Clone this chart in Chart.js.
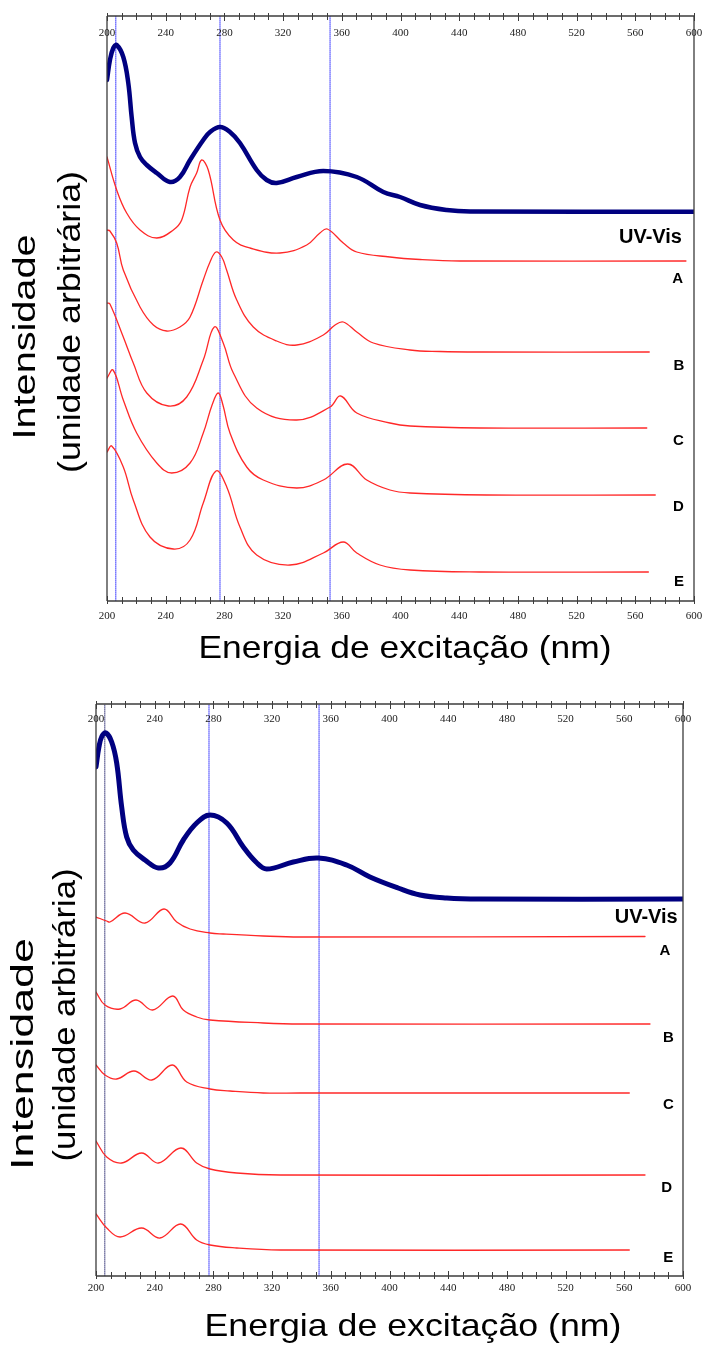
<!DOCTYPE html>
<html>
<head>
<meta charset="utf-8">
<script src="https://cdn.jsdelivr.net/npm/chart.js@4.4.1/dist/chart.umd.min.js"></script>
<style>
  html, body { margin: 0; padding: 0; background: #fff; }
  .panel { position: absolute; left: 0; width: 702px; }
  #top { top: 0; height: 673px; }
  #bottom { top: 673px; height: 674px; }
</style>
</head>
<body>
<div class="panel" id="top"><canvas id="chartTop" width="702" height="673"></canvas></div>
<div class="panel" id="bottom"><canvas id="chartBottom" width="702" height="674"></canvas></div>
<script>
// excitation wavelength (nm) / intensity (arbitrary units, traces already offset)

// ---- upper panel
const topUvNm = [200, 202, 204.3, 206.6, 211.1, 214.5, 216.8, 219.1, 222.5, 227.1, 233.9, 242.9, 249.7, 256.6, 265.6, 270.2, 277, 283.8, 290.6, 302, 308.8, 315.6, 329.3, 347.4, 370.2, 388.3, 399.7, 413.3, 431.5, 447.4, 600]
const topUvI  = [521, 541, 553, 556, 544, 518, 484, 458, 444, 436, 428, 419, 424, 441, 461, 469, 474, 469, 458, 431, 421, 418, 424, 430, 424, 409, 404, 396, 391, 389.5, 389.3]

const topANm = [200, 206.6, 213.4, 222.5, 233.9, 245.2, 250.9, 256.6, 261.1, 264.5, 269, 277, 286.1, 297.4, 317.9, 336.1, 345.1, 350.1, 361, 370.2, 392.8, 413.3, 440.5, 594.5]
const topAI  = [444, 411, 388, 371, 363, 371, 381, 414, 428, 441, 431, 381, 361, 353, 348, 356, 368, 372, 358, 349, 344, 341.5, 340, 340]

const topBNm = [200, 202, 206.6, 211.1, 222.5, 231.6, 240.7, 249.7, 256.6, 265.6, 270.2, 274.3, 278.2, 281.5, 288.4, 299.7, 315.6, 329.3, 347.4, 355.4, 361, 370.2, 381.5, 406.5, 426.9, 454.2, 569.5]
const topBI  = [371, 370, 358, 331, 294, 276, 270, 274, 284, 321, 339, 349, 344, 331, 301, 274, 260, 256, 266, 276, 279, 269, 258, 251, 249.5, 249, 249]

const topCNm = [200, 202, 211.1, 217.9, 227.1, 241.8, 254.3, 265.6, 273.1, 279.2, 286.1, 302, 329.3, 352, 359.2, 370.2, 392.8, 406.5, 454.2, 567.8]
const topCI  = [298, 297, 264, 238, 208, 195, 204, 241, 274, 258, 228, 193, 181, 194, 205, 188, 178, 175, 173, 173]

const topDNm = [200, 204.1, 211.1, 220.2, 233.9, 244.1, 256.6, 265.6, 271.6, 275.8, 279, 283.8, 295.2, 306.5, 329.3, 347.4, 364, 377, 392.8, 406.5, 458.7, 573.6]
const topDI  = [223, 231, 201, 168, 138, 128, 138, 168, 196, 208, 196, 168, 134, 121, 113, 121, 137, 121, 111, 108, 106, 106]

const topENm = [200, 203.2, 211.1, 217.9, 229.3, 245.2, 256.6, 265.6, 274.3, 281.6, 290.6, 302, 324.7, 347.4, 361, 370.2, 386, 406.5, 454.2, 568.9]
const topEI  = [149, 155, 134, 101, 64, 52, 61, 98, 130, 114, 74, 46, 36, 48, 59, 48, 36, 31, 29, 29]

// ---- lower panel
const botUvNm = [200, 202, 204.1, 206.8, 210.7, 214.1, 217.5, 220.9, 225.4, 233.4, 242.5, 250.4, 259.5, 268.6, 277.7, 289.1, 300.4, 309, 316.3, 334.4, 351.5, 370.8, 386.7, 405.8, 420.8, 439, 461.7, 600]
const botUvI  = [509, 529, 540, 543, 534, 513, 469, 439, 426, 416, 408, 413, 436, 453, 461, 453, 429, 414, 407, 414, 418, 411, 399, 388, 381, 378, 377, 377]

const botANm = [200, 207.3, 209.5, 219.8, 233.4, 246.3, 255, 264.1, 277.7, 286.7, 314, 339, 574.1]
const botAI  = [359, 355, 354, 363, 353, 367, 354, 347, 343, 342, 340, 339, 339.5]

const botBNm = [200, 206.1, 216.4, 227.3, 238.6, 252.3, 259.5, 268.6, 277.7, 314, 339, 577.5]
const botBI  = [284, 271, 267, 276, 266, 280, 266, 259, 256, 253, 252, 252]

const botCNm = [200, 206.1, 214.1, 225.9, 238, 252, 261.8, 277.7, 291.3, 314, 339, 563.4]
const botCI  = [211, 201, 197, 205, 196, 211, 194, 187, 185, 183, 183, 183]

const botDNm = [200, 207.3, 217.5, 231.1, 242.5, 257.9, 268.6, 277.7, 295.9, 325.4, 574.1]
const botDI  = [135, 119, 113, 123, 113, 128, 113, 107, 103, 101, 101]

const botENm = [200, 207.3, 216.4, 231.1, 243.6, 257.7, 268.6, 277.7, 295.9, 325.4, 563.4]
const botEI  = [62, 48, 39, 48, 38, 52, 36, 31, 28, 26, 26]

// reference wavelengths marked with dotted lines
const markerNm = [206, 277, 352]

// x axis ticks
const tickStep = 10
const labelStep = 40

// trace labels, anchored in data units
const traceLabels = ["UV-Vis", "A", "B", "C", "D", "E"]
const topLabelNm = [591.8, 588.9, 589.8, 589.3, 589.3, 589.8]
const topLabelI  = [364, 322, 235, 160, 94, 19]
const botLabelNm = [596.4, 587.7, 590, 590, 588.9, 590]
const botLabelI  = [359, 325, 238, 171, 88, 18]

const xTitle = "Energia de excitação (nm)"
const yTitle = ["Intensidade", "(unidade arbitrária)"]

const NAVY = '#000080'
const RED = 'rgb(255,40,40)'
const AXIS = '#3c3c3c'
const TITLE_FONT = '32px "Liberation Sans", Arial, sans-serif'

const toPoints = (nm, values) => nm.map((x, i) => ({ x, y: values[i] }))

// draws text stretched along its own direction to a given length
const drawFitted = (ctx, text, x, y, length, angle) => {
  ctx.save()
  ctx.translate(x, y)
  ctx.rotate(angle)
  ctx.font = TITLE_FONT
  const w = ctx.measureText(text).width
  ctx.scale(length / w, 1)
  ctx.textAlign = 'center'
  ctx.textBaseline = 'alphabetic'
  ctx.fillText(text, 0, 0)
  ctx.restore()
}

const spectrumFrame = {
  id: 'spectrumFrame',
  afterDatasetsDraw(chart, _args, opts) {
    const { ctx, chartArea: a, scales: { x, y } } = chart
    ctx.save()

    // box
    ctx.strokeStyle = AXIS
    ctx.lineWidth = 1.3
    ctx.beginPath()
    ctx.moveTo(a.left, a.top); ctx.lineTo(a.right, a.top)
    ctx.moveTo(a.left, a.bottom); ctx.lineTo(a.right, a.bottom)
    ctx.moveTo(a.left, a.top); ctx.lineTo(a.left, a.bottom)
    ctx.moveTo(a.right, a.top); ctx.lineTo(a.right, a.bottom)
    ctx.stroke()

    // ticks crossing both horizontal axes
    ctx.lineWidth = 1
    ctx.beginPath()
    for (let v = x.min; v <= x.max; v += tickStep) {
      const px = Math.round(x.getPixelForValue(v)) + 0.5
      const inner = v % labelStep === 0 ? 5 : 4
      ctx.moveTo(px, a.top - 3); ctx.lineTo(px, a.top + inner)
      ctx.moveTo(px, a.bottom + 3); ctx.lineTo(px, a.bottom - inner)
    }
    ctx.stroke()

    ctx.fillStyle = '#1a1a1a'
    ctx.font = '11px "Liberation Serif", "Times New Roman", serif'
    ctx.textAlign = 'center'
    ctx.textBaseline = 'middle'
    for (let v = x.min; v <= x.max; v += labelStep) {
      const px = x.getPixelForValue(v)
      ctx.fillText(String(v), px, a.top + opts.topLabelGap)
      ctx.fillText(String(v), px, a.bottom + opts.bottomLabelGap)
    }

    // trace names
    ctx.fillStyle = '#000'
    opts.labels.forEach((text, i) => {
      const px = x.getPixelForValue(opts.labelNm[i])
      const py = y.getPixelForValue(opts.labelI[i])
      if (i === 0) {
        ctx.font = 'bold 20px "Liberation Sans", Arial, sans-serif'
        ctx.textAlign = 'right'
      } else {
        ctx.font = 'bold 15px "Liberation Sans", Arial, sans-serif'
        ctx.textAlign = 'center'
      }
      ctx.fillText(text, px, py)
    })

    // axis titles
    const t = opts.titles
    drawFitted(ctx, xTitle, t.xCenter, t.xBaseline, t.xLength, 0)
    drawFitted(ctx, yTitle[0], t.y1Baseline, t.y1Center, t.y1Length, -Math.PI / 2)
    drawFitted(ctx, yTitle[1], t.y2Baseline, t.y2Center, t.y2Length, -Math.PI / 2)

    ctx.restore()
  }
}

const buildChart = (canvasId, cfg) => {
  const traces = [
    { data: toPoints(cfg.uvNm, cfg.uvI), borderColor: NAVY, borderWidth: cfg.uvWidth },
    ...cfg.red.map(([nm, vals]) => ({ data: toPoints(nm, vals), borderColor: RED, borderWidth: 1.3 })),
  ]
  const markers = markerNm.map((v, i) => ({
    data: [{ x: v, y: 0 }, { x: v, y: cfg.yMax }],
    borderColor: i === 0 ? cfg.firstMarkerColor : 'rgba(30,30,255,0.85)',
    borderWidth: 1,
    borderDash: [1, 1],
    tension: 0,
  }))

  return new Chart(document.getElementById(canvasId), {
    type: 'line',
    data: {
      datasets: [...traces, ...markers].map(d => ({
        pointRadius: 0,
        fill: false,
        tension: 0.4,
        borderJoinStyle: 'round',
        borderCapStyle: 'round',
        ...d,
      })),
    },
    options: {
      responsive: false,
      animation: false,
      layout: { padding: cfg.padding },
      scales: {
        x: { type: 'linear', min: 200, max: 600, display: false },
        y: { type: 'linear', min: 0, max: cfg.yMax, display: false },
      },
      plugins: {
        legend: { display: false },
        tooltip: { enabled: false },
        spectrumFrame: {
          topLabelGap: cfg.topLabelGap,
          bottomLabelGap: cfg.bottomLabelGap,
          labels: traceLabels,
          labelNm: cfg.labelNm,
          labelI: cfg.labelI,
          titles: cfg.titles,
        },
      },
    },
    plugins: [spectrumFrame],
  })
}

buildChart('chartTop', {
  uvNm: topUvNm, uvI: topUvI, uvWidth: 4.5,
  red: [[topANm, topAI], [topBNm, topBI], [topCNm, topCI], [topDNm, topDI], [topENm, topEI]],
  yMax: 585,
  firstMarkerColor: 'rgba(30,30,255,0.85)',
  padding: { left: 107, right: 8, top: 16, bottom: 72 },
  topLabelGap: 17, bottomLabelGap: 15,
  labelNm: topLabelNm, labelI: topLabelI,
  titles: { xCenter: 405, xBaseline: 658, xLength: 413, y1Baseline: 35, y1Center: 337, y1Length: 205, y2Baseline: 80, y2Center: 322, y2Length: 302 },
})

buildChart('chartBottom', {
  uvNm: botUvNm, uvI: botUvI, uvWidth: 5,
  red: [[botANm, botAI], [botBNm, botBI], [botCNm, botCI], [botDNm, botDI], [botENm, botEI]],
  yMax: 572,
  firstMarkerColor: 'rgba(40,40,110,0.85)',
  padding: { left: 96, right: 19, top: 31, bottom: 71 },
  topLabelGap: 15, bottomLabelGap: 12,
  labelNm: botLabelNm, labelI: botLabelI,
  titles: { xCenter: 413, xBaseline: 663, xLength: 417, y1Baseline: 33, y1Center: 381, y1Length: 232, y2Baseline: 75, y2Center: 342, y2Length: 293 },
})
</script>
</body>
</html>
